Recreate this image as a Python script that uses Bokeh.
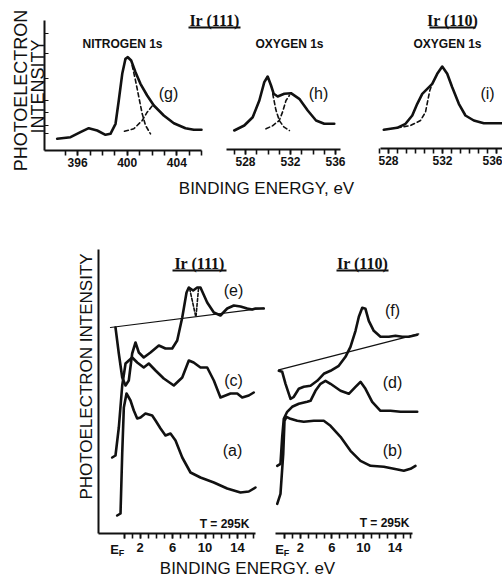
import math
from bokeh.plotting import figure
from bokeh.models import Range1d, LinearAxis, FixedTicker, Label
from bokeh.embed import file_html
from bokeh.resources import INLINE

# ---------------- data (binding energy in eV, intensity in arbitrary units) ----------------
# (g) Ir(111) Nitrogen 1s
g_E = [394.35, 395.43, 396.23, 396.90, 397.58, 398.25, 398.65, 399.06, 399.32, 399.60, 399.86,
       400.05, 400.32, 400.67, 401.07, 401.61, 402.15, 402.95, 403.76, 404.70, 405.37, 405.99]
g_I = [11.7, 13.3, 18.3, 22.3, 20.0, 15.7, 16.7, 26.7, 50.0, 76.7, 91.7,
       93.3, 90.0, 78.3, 66.7, 55.0, 45.0, 35.0, 27.3, 22.3, 20.7, 20.7]
g1_E = [400.40, 400.67, 400.94, 401.21, 401.48, 401.88]
g1_I = [85.0, 70.0, 53.3, 36.7, 25.0, 16.7]
g2_E = [399.78, 400.53, 401.21, 401.61, 402.15]
g2_I = [19.3, 21.7, 30.0, 38.3, 46.7]

# (h) Ir(111) Oxygen 1s
h_E = [527.0, 527.89, 528.64, 529.23, 529.67, 529.97, 530.27, 530.51, 530.86, 531.45, 532.04,
       532.78, 533.53, 534.27, 535.0, 535.89]
h_I = [19.3, 24.3, 32.6, 49.3, 67.6, 73.3, 64.3, 56.0, 53.3, 56.0, 56.6,
       51.0, 39.3, 29.3, 26.0, 26.0]
h1_E = [530.42, 530.70, 531.00, 531.40, 531.90]
h1_I = [56.0, 40.0, 29.3, 23.0, 19.3]
h2_E = [529.82, 530.40, 531.00, 531.30, 531.60, 531.90]
h2_I = [21.0, 24.0, 29.3, 38.0, 49.3, 54.3]

# (i) Ir(110) Oxygen 1s
i_E = [527.65, 528.64, 529.26, 529.76, 530.13, 530.50, 530.87, 531.24, 531.61, 531.98, 532.35,
       532.72, 533.21, 533.70, 534.32, 535.06, 536.44]
i_I = [18.7, 20.7, 24.7, 33.0, 44.7, 54.7, 59.7, 64.7, 74.7, 82.0, 74.7,
       61.3, 44.7, 33.0, 28.0, 25.3, 25.3]
i1_E = [528.64, 529.63, 530.37, 530.74, 530.91, 531.06, 531.24]
i1_I = [20.7, 23.0, 28.0, 36.3, 48.0, 58.0, 64.7]

# Ir(111) valence band, T = 295 K
a_E = [-0.84, -0.43, -0.22, -0.02, 0.31, 0.80, 1.21, 1.63, 2.04, 2.65, 3.48, 3.89, 4.51, 5.12,
       5.74, 6.36, 7.19, 8.21, 9.44, 11.09, 12.74, 14.38, 15.41, 16.23]
a_I = [18, 20, 80, 126, 140, 133, 123, 115, 116, 120, 118, 113, 105, 98,
       100, 93, 76, 61, 56, 51, 45, 41, 42, 46]
c_E = [-1.46, -1.05, -0.64, -0.22, 0.19, 1.01, 1.63, 2.44, 3.06, 3.89, 4.91, 6.15, 7.19, 8.00,
       8.60, 9.44, 10.27, 11.09, 11.91, 13.15, 13.98, 14.59, 15.41, 16.02]
c_I = [76, 78, 106, 148, 170, 176, 171, 166, 170, 163, 155, 148, 156, 173,
       171, 166, 166, 153, 136, 140, 140, 136, 138, 141]
e_E = [-1.05, -0.64, -0.22, 0.19, 0.59, 1.01, 1.42, 1.83, 2.44, 3.27, 4.30, 5.12, 5.95, 6.57,
       7.19, 7.72, 8.00, 8.54, 9.04, 9.44, 10.27, 11.09, 11.91, 12.74, 13.56, 14.38, 15.21,
       15.83, 16.23, 17.26]
e_I = [206, 180, 156, 148, 153, 180, 191, 181, 176, 181, 188, 185, 185, 193,
       216, 241, 246, 243, 246, 246, 231, 221, 218, 225, 228, 227, 225,
       224, 225, 225]
e_base_E = [-1.67, 17.26]
e_base_I = [206, 225.3]
e_d1_E = [8.10, 8.83]
e_d1_I = [245, 218]
e_d2_E = [9.20, 8.90]
e_d2_I = [245, 218]

# Ir(110) valence band, T = 295 K
b_E = [-0.92, -0.51, -0.16, 0.00, 0.25, 0.76, 1.61, 2.44, 3.71, 4.97, 5.82, 7.09, 8.35, 9.62,
       10.89, 12.57, 13.84, 15.10, 15.95, 16.58]
b_I = [30, 40, 80, 113, 117, 115, 113, 112, 113, 113, 108, 97, 83, 73,
       68, 67, 65, 63, 65, 68]
d_E = [-0.92, -0.51, -0.29, -0.09, 0.34, 0.97, 1.81, 2.87, 3.29, 3.92, 4.56, 5.19, 5.82, 7.09,
       8.14, 8.99, 9.62, 10.25, 11.10, 12.15, 13.42, 14.68, 16.80]
d_I = [68, 70, 97, 115, 122, 127, 130, 132, 133, 143, 150, 153, 150, 143,
       140, 147, 152, 145, 132, 123, 123, 122, 122]
f_E = [-0.72, -0.29, 0.13, 0.76, 1.18, 1.81, 2.44, 3.29, 4.14, 4.97, 5.82, 6.87, 7.72, 8.35,
       8.99, 9.41, 9.84, 10.25, 10.67, 11.30, 12.15, 13.20, 14.05, 14.90, 15.73, 16.80]
f_I = [163, 162, 150, 135, 137, 145, 147, 148, 153, 160, 163, 168, 177, 187,
       203, 217, 226, 225, 213, 203, 197, 197, 198, 197, 197, 199]
f_base_E = [-0.72, 17.0]
f_base_I = [164, 200]

# tick labels
top1_ticks = [396, 400, 404]
top23_ticks = [528, 532, 536]
vb_ticks = [0, 2, 6, 10, 14]

# ---------------- layout (pixel geometry of each panel) ----------------
W, H = 502, 579
INK = "#111111"
# name: (reference energy, its pixel x, pixels per eV, pixel y of zero intensity)
panels = {
    "t1": (400.0, 126.7, 12.4, 150.0),
    "t2": (528.0, 245.0, 11.25, 149.3),
    "t3": (532.0, 442.0, 13.5, 148.0),
    "b1": (0.0, 123.5, 8.1, 533.0),
    "b2": (0.0, 284.0, 7.9, 533.3),
}

p = figure(width=W, height=H, x_range=Range1d(0, W), y_range=Range1d(H, 0),
           x_axis_type=None, y_axis_type=None, toolbar_location=None,
           output_backend="svg", min_border=0, outline_line_color=None,
           background_fill_color="white", border_fill_color="white")

xr, yr = {}, {}
for k, (e0, px0, ppe, base) in panels.items():
    xr[k + "x"] = Range1d(e0 - px0 / ppe, e0 + (W - px0) / ppe)
    yr[k + "y"] = Range1d(base - H, base)
p.extra_x_ranges = xr
p.extra_y_ranges = yr


def curve(k, xs, ys, width=2.6, dash="solid"):
    p.line(xs, ys, x_range_name=k + "x", y_range_name=k + "y", line_color=INK,
           line_width=width, line_dash=dash, line_join="round", line_cap="round")


def xaxis(k, bounds, ticks, minor, overrides=None, size="12px", standoff=2):
    ax = LinearAxis(x_range_name=k + "x", y_range_name=k + "y", fixed_location=0,
                    bounds=bounds, ticker=FixedTicker(ticks=ticks, minor_ticks=minor),
                    axis_line_width=2, axis_line_color=INK,
                    major_tick_line_width=1.6, major_tick_line_color=INK,
                    minor_tick_line_width=1.6, minor_tick_line_color=INK,
                    major_tick_in=0, major_tick_out=5, minor_tick_in=0, minor_tick_out=5,
                    major_label_standoff=standoff,
                    major_label_text_font="Liberation Sans",
                    major_label_text_font_style="bold",
                    major_label_text_font_size=size,
                    major_label_text_color=INK)
    if overrides:
        ax.major_label_overrides = overrides
    p.add_layout(ax, "below")


def yaxis(k, loc, bounds, minor):
    ax = LinearAxis(x_range_name=k + "x", y_range_name=k + "y", fixed_location=loc,
                    bounds=bounds, ticker=FixedTicker(ticks=[], minor_ticks=minor),
                    axis_line_width=2, axis_line_color=INK,
                    minor_tick_in=4, minor_tick_out=0, minor_tick_line_width=1.2,
                    minor_tick_line_color=INK, major_label_text_font_size="0px")
    p.add_layout(ax, "left")


# ---- top panels ----
xaxis("t1", (393.33, 406.0), top1_ticks, list(range(395, 407)))
yaxis("t1", 393.33, (0, 130), [17, 25, 38, 50, 72, 97, 117])
curve("t1", g_E, g_I)
curve("t1", g1_E, g1_I, 1.6, "4 3")
curve("t1", g2_E, g2_I, 1.6, "4 3")

xaxis("t2", (526.31, 536.44), top23_ticks, list(range(527, 537)))
curve("t2", h_E, h_I)
curve("t2", h1_E, h1_I, 1.6, "4 3")
curve("t2", h2_E, h2_I, 1.6, "4 3")

xaxis("t3", (527.41, 537.5), top23_ticks, [528 + j * 2 / 3 for j in range(-1, 15)])
curve("t3", i_E, i_I)
curve("t3", i1_E, i1_I, 1.6, "4 3")

# ---- bottom panels ----
xaxis("b1", (-3.11, 16.23), vb_ticks, list(range(0, 17)), {0: ""}, "13px", 4)
yaxis("b1", -3.11, (0, 284), [])
curve("b1", e_base_E, e_base_I, 1.2)
curve("b1", a_E, a_I)
curve("b1", c_E, c_I)
curve("b1", e_E, e_I)
curve("b1", e_d1_E, e_d1_I, 1.6, "3 2")
curve("b1", e_d2_E, e_d2_I, 1.6, "3 2")

xaxis("b2", (-1.14, 16.16), vb_ticks, list(range(0, 17)), {0: ""}, "13px", 4)
curve("b2", f_base_E, f_base_I, 1.2)
curve("b2", b_E, b_I)
curve("b2", d_E, d_I)
curve("b2", f_E, f_I)


# ---------------- texts (page pixel positions) ----------------
def text(x, y, t, size, font="Liberation Sans", style="normal", angle=0.0):
    p.add_layout(Label(x=x, y=y, text=t, text_align="center", text_baseline="middle",
                       text_font=font, text_font_size=size, text_font_style=style,
                       text_color=INK, angle=angle))


def underlined(x, y, t, half, size="16px"):
    text(x, y, t, size, "Liberation Serif", "bold")
    p.segment(x0=[x - half], y0=[y + 7], x1=[x + half], y1=[y + 7],
              line_color=INK, line_width=1.8)


rot = math.pi / 2
text(20, 90, "PHOTOELECTRON", "18px", angle=rot)
text(37, 86, "INTENSITY", "18px", angle=rot)
text(86, 376, "PHOTOELECTRON INTENSITY", "17px", angle=rot)

underlined(214, 20, "Ir (111)", 26)
underlined(452, 20, "Ir (110)", 23)
text(122, 43, "NITROGEN 1s", "12px", style="bold")
text(289, 43, "OXYGEN 1s", "12px", style="bold")
text(447, 43, "OXYGEN 1s", "12px", style="bold")
text(168, 93, "(g)", "16px")
text(318, 93, "(h)", "16px")
text(487, 93, "(i)", "16px")
text(266, 188, "BINDING ENERGY, eV", "17px")

underlined(199, 263, "Ir (111)", 27)
underlined(362, 263, "Ir (110)", 26)
text(233, 290, "(e)", "16px")
text(233, 380, "(c)", "16px")
text(232, 450, "(a)", "16px")
text(392, 310, "(f)", "16px")
text(392, 382, "(d)", "16px")
text(392, 450, "(b)", "16px")
text(224, 523, "T = 295K", "12px", style="bold")
text(384, 522, "T = 295K", "12px", style="bold")
text(114, 549, "E", "13px", style="bold")
text(121, 552, "F", "9px", style="bold")
text(279, 549, "E", "13px", style="bold")
text(286, 552, "F", "9px", style="bold")
text(247, 568, "BINDING ENERGY. eV", "17px")

open("out.html", "w").write(file_html(p, INLINE))
